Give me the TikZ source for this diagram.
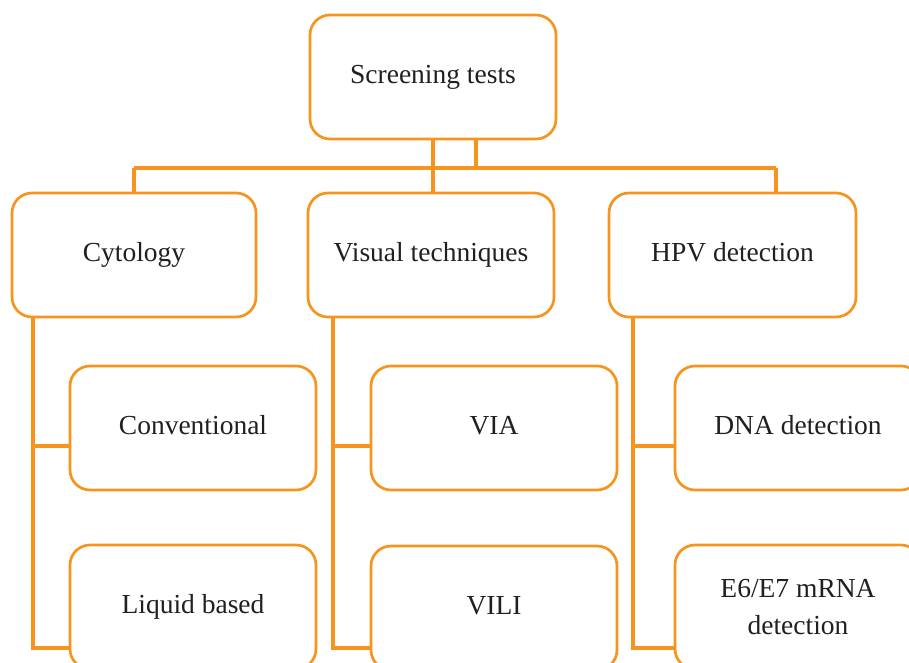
\documentclass[tikz,border=0pt]{standalone}
\usepackage{fontspec}
\setmainfont{Liberation Serif}
\usetikzlibrary{calc}
\definecolor{org}{HTML}{F7941D}
\definecolor{txt}{HTML}{231F20}
\pgfdeclarelayer{bg}
\pgfsetlayers{bg,main}
\begin{document}
\begin{tikzpicture}[x=1pt,y=-1pt,
  box/.style={draw=org, line width=2.7pt, rounded corners=20pt, fill=white,
    minimum width=246pt, minimum height=124pt, inner sep=0pt, outer sep=0pt,
    text=txt, align=center, font=\fontsize{27.5}{37}\selectfont},
  one/.style={box, text height=19pt, text depth=6pt},
  conn/.style={draw=org, line width=4.8pt}]
\useasboundingbox (0,0) rectangle (909,663);
\clip (0,0) rectangle (909,663);
% nodes
\node[one] (top) at (433,77) {Screening tests};
\node[one, minimum width=244pt] (cyt) at (134,255) {Cytology};
\node[one] (vis) at (431,255) {Visual techniques};
\node[one, minimum width=247pt] (hpv) at (732.5,255) {HPV detection};
\node[one] (conv) at (193,428) {Conventional};
\node[one] (liq) at (193,607) {Liquid based};
\node[one] (via) at (494,428) {VIA};
\node[one] (vili) at (494,608) {VILI};
\node[one] (dna) at (798,428) {DNA detection};
\node[box] (e6) at (798,607) {E6/E7 mRNA\\detection};
\begin{pgfonlayer}{bg}
% top-level connectors
\coordinate (barL) at (cyt.north |- 0,168);
\coordinate (barR) at ($(hpv.north west)+(167,0)$);
\draw[conn] (barL) -- (barR |- 0,168);
\draw[conn] (cyt.north) -- (barL);
\draw[conn] (barR) -- (barR |- 0,168);
\draw[conn] (top.south) -- (top.south |- vis.north);
\draw[conn] ($(top.south)+(43,0)$) -- ($(top.south)+(43,29)$);
% cytology branch
\coordinate (cs) at ($(cyt.south west)+(21,0)$);
\draw[conn] (cs) |- (liq.west |- 0,648);
\draw[conn] (cs |- 0,446) -- (conv.west |- 0,446);
% visual branch
\coordinate (vs) at ($(vis.south west)+(25,0)$);
\draw[conn] (vs) |- (vili.west |- 0,648);
\draw[conn] (vs |- 0,446) -- (via.west |- 0,446);
% hpv branch
\coordinate (hs) at ($(hpv.south west)+(24,0)$);
\draw[conn] (hs) |- (e6.west |- 0,648);
\draw[conn] (hs |- 0,446) -- (dna.west |- 0,446);
\end{pgfonlayer}
\end{tikzpicture}
\end{document}
